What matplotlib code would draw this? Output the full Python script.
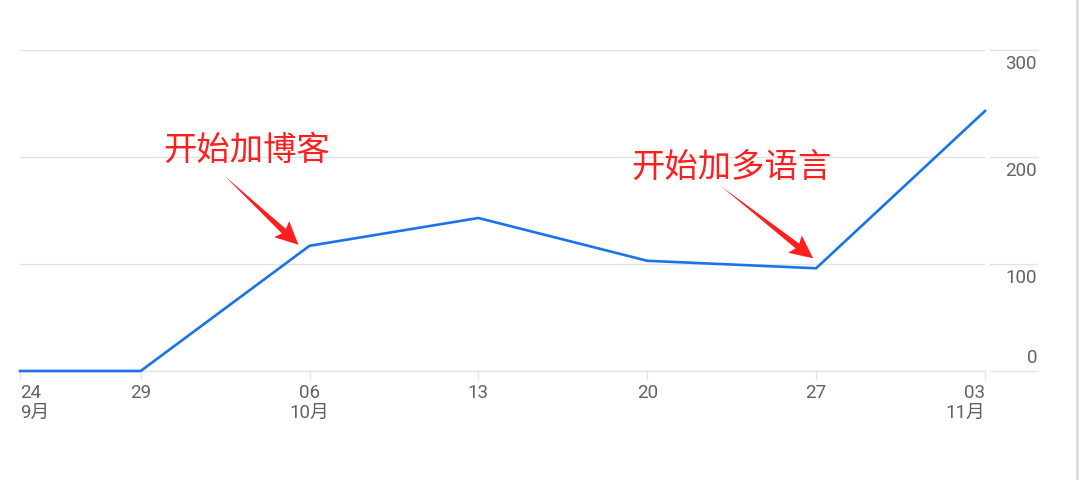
import numpy as np
import pandas as pd
import matplotlib
matplotlib.use('Agg')
import matplotlib.pyplot as plt
import matplotlib.dates as mdates
import matplotlib.transforms as mtransforms
from matplotlib.lines import Line2D
from matplotlib.patches import Polygon

plt.rcParams['font.family'] = ['Roboto', 'Noto Sans CJK SC', 'DejaVu Sans']

# data
dates = pd.to_datetime(['2023-09-24', '2023-09-29', '2023-10-06', '2023-10-13',
                        '2023-10-20', '2023-10-27', '2023-11-03'])
clicks = [0, 0, 117, 143, 103, 96, 243]
tick_labels = ['24\n9月', '29', '06\n10月', '13', '20', '27', '03\n11月']
y_ticks = [0, 100, 200, 300]
notes = ['开始加博客', '开始加多语言']
note_idx = [2, 5]

GRID = '#e3e3e3'
LABEL = '#5f6368'
BLUE = '#1a73e8'
RED = '#ff1f1f'

fig = plt.figure(figsize=(10.8, 4.8), dpi=100)
ax = fig.add_axes([20 / 1080, 1 - 371 / 480, 965 / 1080, 321 / 480])

ax.plot(dates, clicks, color=BLUE, lw=1.9, solid_joinstyle='miter', zorder=3, clip_on=False)
ax.set_xlim(dates[0], dates[-1])
ax.set_ylim(0, 300)

for s in ['top', 'right', 'left']:
    ax.spines[s].set_visible(False)
ax.spines['bottom'].set_color(GRID)
ax.spines['bottom'].set_linewidth(1.0)

ax.set_yticks(y_ticks)
ax.tick_params(axis='y', left=False, labelleft=False)
ax.yaxis.grid(True, color=GRID, lw=1.0)

# grid stubs and labels on the right side
yt = ax.get_yaxis_transform()
for v in y_ticks:
    ax.add_line(Line2D([1.0052, 1.054], [v, v], transform=yt, color=GRID, lw=1.0, clip_on=False))
    if v == 0:
        ax.annotate(str(v), xy=(1.054, v), xycoords=yt, xytext=(0, 4), textcoords='offset pixels',
                    ha='right', va='bottom', fontsize=13.5, color=LABEL)
    else:
        ax.annotate(str(v), xy=(1.054, v), xycoords=yt, xytext=(0, -5), textcoords='offset pixels',
                    ha='right', va='top', fontsize=13.5, color=LABEL)

ax.set_xticks(mdates.date2num(dates))
ax.set_xticklabels(tick_labels, fontsize=13.5, color=LABEL, linespacing=1.15)
ax.tick_params(axis='x', length=6, color=GRID, width=1.0, pad=3)
labs = ax.get_xticklabels()
labs[0].set_ha('left')
labs[-1].set_ha('right')
for lab in labs:
    lab.set_multialignment(lab.get_ha())


def wedge_arrow(pt, start, tip, head_len=20, head_w=22, tail_w=6):
    # tapered arrow, offsets in pixels around a data point
    s = np.array(start, float)
    t = np.array(tip, float)
    u = (t - s) / np.linalg.norm(t - s)
    n = np.array([-u[1], u[0]])
    b = t - u * head_len
    verts = [s, b + n * tail_w / 2, b - u * 3 + n * head_w / 2, t,
             b - u * 3 - n * head_w / 2, b - n * tail_w / 2]
    tr = mtransforms.IdentityTransform() + mtransforms.ScaledTranslation(pt[0], pt[1], ax.transData)
    ax.add_patch(Polygon(verts, closed=True, transform=tr, color=RED, lw=0, clip_on=False, zorder=4))


# annotations with arrows
text_off = [(-63, 95), (-85, 101)]
arrow_start = [(-85, 70), (-95, 82)]
arrow_tip = [(-11, 1), (-3, 10)]
for note, i, toff, a0, a1 in zip(notes, note_idx, text_off, arrow_start, arrow_tip):
    pt = (mdates.date2num(dates[i]), clicks[i])
    ax.annotate(note, xy=pt, xytext=toff, textcoords='offset pixels', ha='center', va='center',
                fontsize=24, color=RED, family=['Noto Sans CJK SC', 'DejaVu Sans'])
    wedge_arrow(pt, a0, a1)

# right border
fig.add_artist(Line2D([1077 / 1080, 1077 / 1080], [0, 1], transform=fig.transFigure,
                      color='#dcdcdc', lw=2))

fig.savefig('out.png', dpi=100)
